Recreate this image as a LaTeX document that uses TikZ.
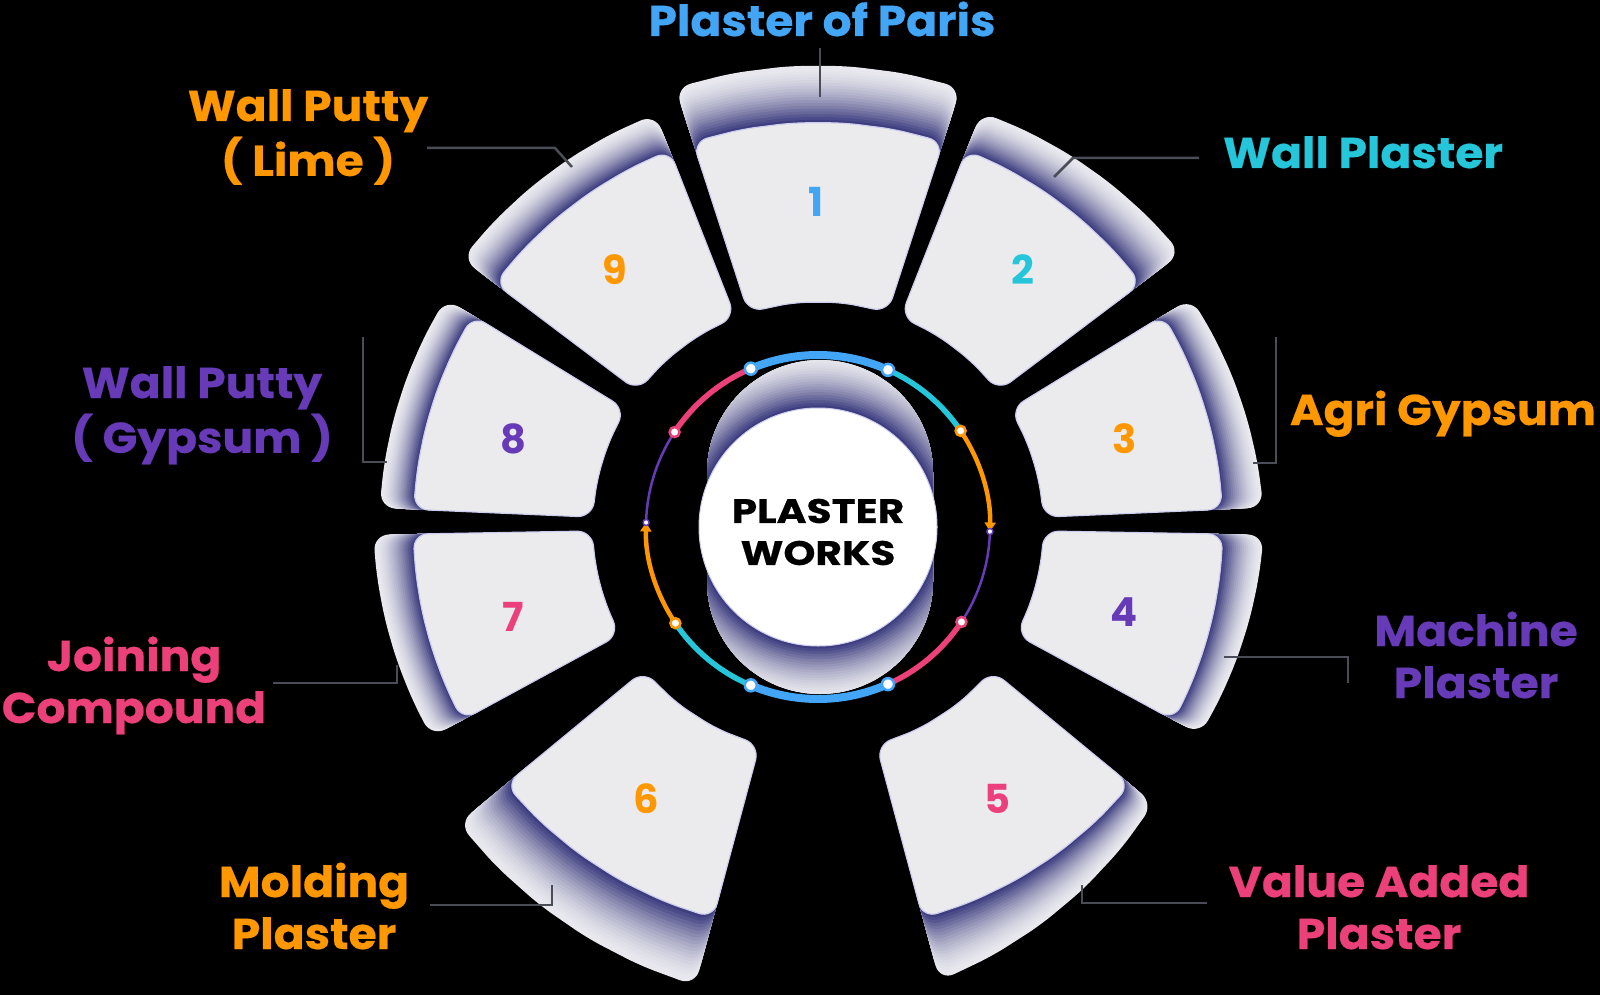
\documentclass[tikz,border=0pt]{standalone}
\usepackage{fontspec}
\setmainfont{Poppins}
\newfontfamily\labfont{Poppins}[BoldFeatures={FakeBold=0.5,FakeStretch=1.06}]
\usetikzlibrary{arrows.meta}
\definecolor{pblue}{HTML}{42A5F5}
\definecolor{pcyan}{HTML}{26C6DA}
\definecolor{porange}{HTML}{FF9800}
\definecolor{ppurple}{HTML}{673AB7}
\definecolor{ppink}{HTML}{EC407A}
\definecolor{rimc}{HTML}{E8E8EE}
\definecolor{navyc}{HTML}{2E2E76}
\definecolor{facec}{HTML}{EBEBED}
\definecolor{faceedge}{HTML}{CDCDEE}
\definecolor{connc}{HTML}{4A4D55}
\newcommand{\tileback}[4]{%
 \foreach \k in {0,...,20}{%
  \pgfmathsetmacro{\sk}{1-\k/20}%
  \pgfmathsetmacro{\fk}{100*(\k/20)^1.6}%
  \fill[rounded corners=16pt, navyc!\fk!rimc] (#1:360)
    \foreach \j in {0,...,5}{ -- ({#1+(#2-#1)*\j/5}:{405+(#3+(#4-#3)*\j/5)*\sk}) }
    -- (#2:360) -- cycle;
 }}
\newcommand{\tileface}[2]{%
 \filldraw[rounded corners=15pt, fill=facec, draw=faceedge, line width=1.2pt]
  (#1:315) \foreach \j in {0,...,5}{ -- ({#1+(#2-#1)*\j/5}:405) }
  \foreach \j in {0,...,3}{ -- ({#2+(#1-#2)*\j/3}:226) } -- cycle;}
\newcommand{\twol}[2]{\begin{tabular}[t]{@{}c@{}}#1\\#2\end{tabular}}
\begin{document}
\begin{tikzpicture}[x=1pt,y=-1pt,
  lab/.style={inner sep=0pt, anchor=base, font=\fontsize{43}{52}\selectfont\labfont\bfseries},
  num/.style={inner sep=0pt, font=\fontsize{40}{40}\selectfont\bfseries},
  conn/.style={draw=connc, line width=2.5pt},
  dot/.style={circle, fill=white, draw=#1, line width=2.5pt, minimum size=12pt, inner sep=0pt},
  sdot/.style={circle, fill=white, draw=#1, line width=1.5pt, minimum size=6pt, inner sep=0pt}]
\useasboundingbox (0,0) rectangle (1600,995);
\fill[black] (0,0) rectangle (1600,995);
\coordinate (C) at (818,527);
% tiles
\begin{scope}[shift={(818,527)}, yscale=-1]
 \tileback{72}{108}{57}{57}\tileface{72}{108}
 \tileback{37}{68.5}{50}{41}\tileface{37}{68.5}
 \tileback{2.5}{31.5}{41}{33}\tileface{2.5}{31.5}
 \tileback{-28.5}{-1}{30}{41}\tileface{-28.5}{-1}
 \tileback{-75}{-39.5}{65}{30}\tileface{-75}{-39.5}
 \tileback{-140.5}{-105}{61}{70}\tileface{-140.5}{-105}
 \tileback{181}{208.5}{40}{35}\tileface{181}{208.5}
 \tileback{148.5}{177.5}{32}{34}\tileface{148.5}{177.5}
 \tileback{111.5}{143}{39}{41}\tileface{111.5}{143}
\end{scope}
% tile numbers
\node[num, text=pblue] (n1) at (816,202) {1};
\node[num, text=pcyan] (n2) at (1023,270) {2};
\node[num, text=porange] (n3) at (1125,439) {3};
\node[num, text=ppurple] (n4) at (1124,612) {4};
\node[num, text=ppink] (n5) at (997,799) {5};
\node[num, text=porange] (n6) at (646,799) {6};
\node[num, text=ppink] (n7) at (513,617) {7};
\node[num, text=ppurple] (n8) at (513,439) {8};
\node[num, text=porange] (n9) at (615,270) {9};
% centre capsule
\begin{scope}
 \clip[rounded corners=113pt] (707,360) rectangle (933,694);
 \foreach \k in {0,...,20}{%
  \pgfmathsetmacro{\fk}{100*(\k/20)^1.6}%
  \fill[navyc!\fk!rimc] (C) circle ({172-\k*53/20});}
\end{scope}
\node[circle, fill=white, draw=faceedge, line width=1pt, minimum size=238pt, inner sep=0pt] (hub) at (C) {};
\node[inner sep=0pt, align=center, font=\fontsize{34}{42}\selectfont\labfont\bfseries] (title) at (818,532) {\scalebox{1.13}[1]{PLASTER}\\\scalebox{1.13}[1]{WORKS}};
% ring
\begin{scope}[shift={(818,527)}, yscale=-1]
 \draw[pblue, line width=8pt] (66:172) arc[start angle=66, end angle=113, radius=172];
 \draw[pblue, line width=8pt] (-113:172) arc[start angle=-113, end angle=-66, radius=172];
 \draw[pcyan, line width=5.5pt] (34:172) arc[start angle=34, end angle=66, radius=172];
 \draw[pcyan, line width=5.5pt] (214:172) arc[start angle=214, end angle=247, radius=172];
 \draw[porange, line width=4.5pt, -{Triangle[length=9pt,width=11pt]}] (34:172) arc[start angle=34, end angle=-1.5, radius=172];
 \draw[porange, line width=4.5pt, -{Triangle[length=9pt,width=11pt]}] (214:172) arc[start angle=214, end angle=178.5, radius=172];
 \draw[ppurple, line width=2.5pt] (-1.5:172) arc[start angle=-1.5, end angle=-33.5, radius=172];
 \draw[ppurple, line width=2.5pt] (178.5:172) arc[start angle=178.5, end angle=146.5, radius=172];
 \draw[ppink, line width=5.5pt] (-33.5:172) arc[start angle=-33.5, end angle=-66, radius=172];
 \draw[ppink, line width=5.5pt] (146.5:172) arc[start angle=146.5, end angle=113, radius=172];
 \node[dot=pblue] (d1) at (113:172) {};
 \node[dot=pblue] (d2) at (66:172) {};
 \node[dot=porange, minimum size=10pt] (d3) at (34:172) {};
 \node[sdot=ppurple] (d4) at (-1.5:172) {};
 \node[dot=ppink, minimum size=10pt] (d5) at (-33.5:172) {};
 \node[dot=pblue] (d6) at (-66:172) {};
 \node[dot=pblue] (d7) at (-113:172) {};
 \node[dot=porange, minimum size=10pt] (d8) at (214:172) {};
 \node[sdot=ppurple] (d9) at (178.5:172) {};
 \node[dot=ppink, minimum size=10pt] (d10) at (146.5:172) {};
\end{scope}
% connector end points
\coordinate (a1) at (820,97);  \coordinate (b1) at (820,48);
\coordinate (a2) at (1054,177); \coordinate (m2) at (1073,158); \coordinate (b2) at (1199,158);
\coordinate (a3) at (1253,463); \coordinate (m3) at (1276,463); \coordinate (b3) at (1276,337);
\coordinate (a4) at (1224,657); \coordinate (m4) at (1348,657); \coordinate (b4) at (1348,683);
\coordinate (a5) at (1082,885); \coordinate (m5) at (1082,903); \coordinate (b5) at (1207,903);
\coordinate (a6) at (552,885);  \coordinate (m6) at (552,905);  \coordinate (b6) at (430,905);
\coordinate (a7) at (397,665);  \coordinate (m7) at (397,683);  \coordinate (b7) at (273,683);
\coordinate (a8) at (387,462);  \coordinate (m8) at (363,462);  \coordinate (b8) at (363,337);
\coordinate (a9) at (572,167);  \coordinate (m9) at (555,148);  \coordinate (b9) at (427,148);
\draw[conn] (a1) -- (b1);
\draw[conn] (a2) -- (m2) -- (b2);
\draw[conn] (a3) -- (m3) -- (b3);
\draw[conn] (a4) -- (m4) -- (b4);
\draw[conn] (a5) -- (m5) -- (b5);
\draw[conn] (a6) -- (m6) -- (b6);
\draw[conn] (a7) -- (m7) -- (b7);
\draw[conn] (a8) -- (m8) -- (b8);
\draw[conn] (a9) -- (m9) -- (b9);
% labels
\node[lab, text=pblue] (l1) at (822,36) {Plaster of Paris};
\node[lab, text=pcyan] (l2) at (1363,168) {Wall Plaster};
\node[lab, text=porange] (l3) at (1443,425) {Agri Gypsum};
\node[lab, text=ppurple] (l4) at (1476,646) {\twol{Machine}{Plaster}};
\node[lab, text=ppink] (l5) at (1379,897) {\twol{Value Added}{Plaster}};
\node[lab, text=porange] (l6) at (314,897) {\twol{Molding}{Plaster}};
\node[lab, text=ppink] (l7) at (134,671) {\twol{Joining}{Compound}};
\node[lab, text=ppurple] (l8) at (202,398) {\twol{Wall Putty}{( Gypsum )}};
\node[lab, text=porange] (l9) at (308,121) {\twol{Wall Putty}{( Lime )}};
\end{tikzpicture}
\end{document}
